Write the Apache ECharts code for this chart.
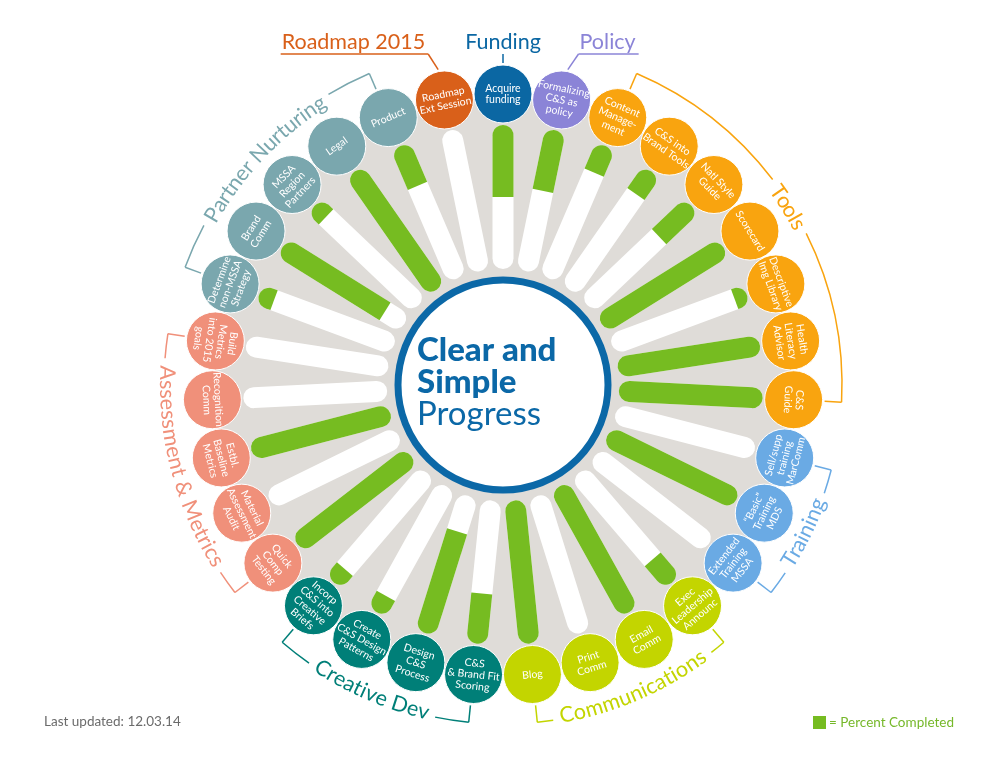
<!DOCTYPE html>
<html>
<head>
<meta charset="utf-8">
<script src="https://cdn.jsdelivr.net/npm/echarts@6/dist/echarts.min.js"></script>
<style>
  html, body { margin: 0; padding: 0; background: #fff; }
  #chart { width: 1000px; height: 773px; }
</style>
</head>
<body>
<div id="chart"></div>
<script>
// tasks, clockwise from the top
const tasks = [
  'Acquire\nfunding', 'Formalizing\nC&S as\npolicy', 'Content\nManage-\nment', 'C&S into\nBrand Tools',
  'Natl Style\nGuide', 'Scorecard', 'Descriptive\nImg Library', 'Health\nLiteracy\nAdvisor', 'C&S\nGuide',
  'Sell/supp\ntraining\nMarComm', '\u201cBasic\u201d\nTraining\nMDS', 'Extended\nTraining\nMSSA',
  'Exec\nLeadership\nAnnounc', 'Email\nComm', 'Print\nComm', 'Blog',
  'C&S\n& Brand Fit\nScoring', 'Design\nC&S\nProcess', 'Create\nC&S Design\nPatterns', 'Incorp\nC&S into\nCreative\nBriefs',
  'Quick\nComp\nTesting', 'Material\nAssessment\nAudit', 'Estbl.\nBaseline\nMetrics', 'Recognition\nComm', 'Build\nMetrics\ninto 2015\ngoals',
  'Determine\nnon-MSSA\nStrategy', 'Brand\nComm', 'MSSA\nRegion\nPartners', 'Legal', 'Product',
  'Roadmap\nExt Session'
]
// percent completed
const progress = [
  50, 43, 20, 19,
  31, 100, 9, 100, 100,
  0, 100, 0,
  21, 100, 0, 100,
  35, 74, 13, 12,
  100, 0, 100, 0, 0,
  11, 84, 11, 100, 30,
  0
]
const taskGroup = [
  'Funding', 'Policy', 'Tools', 'Tools',
  'Tools', 'Tools', 'Tools', 'Tools', 'Tools',
  'Training', 'Training', 'Training',
  'Communications', 'Communications', 'Communications', 'Communications',
  'Creative Dev', 'Creative Dev', 'Creative Dev', 'Creative Dev',
  'Assessment & Metrics', 'Assessment & Metrics', 'Assessment & Metrics', 'Assessment & Metrics', 'Assessment & Metrics',
  'Partner Nurturing', 'Partner Nurturing', 'Partner Nurturing', 'Partner Nurturing', 'Partner Nurturing',
  'Roadmap 2015'
]
const groupNames = ['Roadmap 2015', 'Funding', 'Policy', 'Tools', 'Training', 'Communications', 'Creative Dev', 'Assessment & Metrics', 'Partner Nurturing']

// styles
const groupColor = {
  'Roadmap 2015': '#d9601a',
  'Funding': '#0b67a3',
  'Policy': '#8b84d7',
  'Tools': '#f9a40f',
  'Training': '#6aaae4',
  'Communications': '#c3d500',
  'Creative Dev': '#007f78',
  'Assessment & Metrics': '#f0907a',
  'Partner Nurturing': '#7aa7ae'
}
// single-task groups get a heading above the ring
const topLabel = {
  'Roadmap 2015': { dx: -91, side: 'right' },
  'Funding': { dx: 0, side: 'none' },
  'Policy': { dx: 46, side: 'left' }
}
const GREEN = '#76bc21'
const BLUE = '#0b68a7'
const CX = 503
const CY = 385
const BAR_W = 21
const LABEL_R = 291
const CIRCLE_R = 29
const TICK_IN = 322
const ARC_R = 339
const TEXT_R = 336
const GROUP_FS = 21.5
const FONT = 'Lato'
const N = tasks.length

const measureCtx = document.createElement('canvas').getContext('2d')
function textWidth(s, size) {
  measureCtx.font = size + 'px ' + FONT
  return measureCtx.measureText(s).width
}
function compassDeg(p, cs) {
  const d = Math.atan2(p[0] - cs.cx, cs.cy - p[1]) * 180 / Math.PI
  return (d + 360) % 360
}
function polarPt(cs, r, deg) {
  const a = deg * Math.PI / 180
  return [cs.cx + r * Math.sin(a), cs.cy - r * Math.cos(a)]
}
function labelRot(deg) {
  const r = deg <= 100 ? deg : deg <= 285 ? deg - 180 : deg - 360
  return -r * Math.PI / 180
}
function toCanvasRad(deg) {
  return (deg - 90) * Math.PI / 180
}

function renderBar(params, api) {
  const cs = params.coordSys
  const pct = api.value(0)
  const i = api.value(1)
  const pO = api.coord([0, i])
  const pI = api.coord([100, i])
  const pG = api.coord([pct, i])
  const len = Math.hypot(pI[0] - pO[0], pI[1] - pO[1])
  const ux = (pI[0] - pO[0]) / len
  const uy = (pI[1] - pO[1]) / len
  const nx = -uy
  const ny = ux
  const h = BAR_W / 2
  const a = [pO[0] + ux * h, pO[1] + uy * h]
  const b = [pI[0] - ux * h, pI[1] - uy * h]
  const children = [{
    type: 'line',
    shape: { x1: a[0], y1: a[1], x2: b[0], y2: b[1] },
    style: { stroke: '#fff', lineWidth: BAR_W, lineCap: 'round' }
  }]
  if (pct >= 100) {
    children.push({
      type: 'line',
      shape: { x1: a[0], y1: a[1], x2: b[0], y2: b[1] },
      style: { stroke: GREEN, lineWidth: BAR_W, lineCap: 'round' }
    })
  } else if (pct > 0) {
    // round outer end, flat edge where the progress stops
    const pts = [[pG[0] + nx * h, pG[1] + ny * h]]
    for (let k = 0; k <= 20; k++) {
      const t = Math.PI * k / 20
      const vx = nx * Math.cos(t) - ux * Math.sin(t)
      const vy = ny * Math.cos(t) - uy * Math.sin(t)
      pts.push([a[0] + vx * h, a[1] + vy * h])
    }
    pts.push([pG[0] - nx * h, pG[1] - ny * h])
    children.push({ type: 'polygon', shape: { points: pts }, style: { fill: GREEN } })
  }
  const deg = compassDeg(pO, cs)
  const c = polarPt(cs, LABEL_R, deg)
  children.push({
    type: 'circle',
    shape: { cx: c[0], cy: c[1], r: CIRCLE_R },
    style: { fill: groupColor[taskGroup[i]], stroke: '#fff', lineWidth: 1 }
  })
  children.push({
    type: 'text',
    x: c[0],
    y: c[1],
    rotation: labelRot(deg),
    style: {
      text: tasks[i], fill: '#fff', fontSize: 10.5, fontFamily: FONT,
      align: 'center', verticalAlign: 'middle', lineHeight: 11.5
    }
  })
  return { type: 'group', children }
}

const groupRanges = groupNames.map(name => {
  const first = taskGroup.indexOf(name)
  const last = taskGroup.lastIndexOf(name)
  return [0, first, last]
})

function renderGroup(params, api) {
  const cs = params.coordSys
  const name = groupNames[params.dataIndex]
  const color = groupColor[name]
  const d1 = compassDeg(api.coord([0, api.value(1)]), cs)
  const d2 = compassDeg(api.coord([0, api.value(2)]), cs)
  const children = []
  const lineStyle = { stroke: color, lineWidth: 1.5, fill: 'none' }

  if (topLabel[name]) {
    const tl = topLabel[name]
    const c = polarPt(cs, LABEL_R, d1)
    const tx = c[0] + tl.dx
    const ty = cs.cy - 343
    const ly = cs.cy - 331
    const w = textWidth(name, GROUP_FS)
    const target = polarPt(cs, TICK_IN, d1)
    children.push({
      type: 'text', x: tx, y: ty,
      style: { text: name, fill: color, fontSize: GROUP_FS, fontFamily: FONT, align: 'center', verticalAlign: 'middle' }
    })
    if (tl.side === 'none') {
      children.push({ type: 'line', shape: { x1: tx, y1: ly, x2: target[0], y2: target[1] }, style: lineStyle })
    } else {
      const x1 = tx - w / 2 - 1
      const x2 = tx + w / 2 + 3
      const xe = tl.side === 'right' ? x2 : x1
      children.push({ type: 'polyline', shape: { points: [[x1, ly], [x2, ly]] }, style: lineStyle })
      children.push({ type: 'line', shape: { x1: xe, y1: ly, x2: target[0], y2: target[1] }, style: lineStyle })
    }
    return { type: 'group', children }
  }

  const mid = (d1 + d2) / 2
  const bottom = mid > 90 && mid < 270
  const W = textWidth(name, GROUP_FS)
  const span = W / TEXT_R * 180 / Math.PI
  const gap = 1.2
  // bracket ticks
  ;[d1, d2].forEach(d => {
    const p1 = polarPt(cs, TICK_IN, d)
    const p2 = polarPt(cs, ARC_R, d)
    children.push({ type: 'line', shape: { x1: p1[0], y1: p1[1], x2: p2[0], y2: p2[1] }, style: lineStyle })
  })
  // bracket arcs, broken for the text
  children.push({
    type: 'arc',
    shape: { cx: cs.cx, cy: cs.cy, r: ARC_R, startAngle: toCanvasRad(d1), endAngle: toCanvasRad(mid - span / 2 - gap), clockwise: true },
    style: lineStyle
  })
  children.push({
    type: 'arc',
    shape: { cx: cs.cx, cy: cs.cy, r: ARC_R, startAngle: toCanvasRad(mid + span / 2 + gap), endAngle: toCanvasRad(d2), clockwise: true },
    style: lineStyle
  })
  // text set along the arc, one glyph at a time
  for (let k = 0; k < name.length; k++) {
    const ch = name[k]
    if (ch === ' ') continue
    const off = (textWidth(name.slice(0, k), GROUP_FS) + textWidth(name.slice(0, k + 1), GROUP_FS)) / 2
    const dd = off / TEXT_R * 180 / Math.PI
    const deg = bottom ? mid + span / 2 - dd : mid - span / 2 + dd
    const p = polarPt(cs, TEXT_R, deg)
    const rot = bottom ? deg - 180 : deg
    children.push({
      type: 'text', x: p[0], y: p[1], rotation: -rot * Math.PI / 180,
      style: { text: ch, fill: color, fontSize: GROUP_FS, fontFamily: FONT, align: 'center', verticalAlign: 'middle' }
    })
  }
  return { type: 'group', children }
}

const chart = echarts.init(document.getElementById('chart'))
const hidden = { axisLine: { show: false }, axisTick: { show: false }, axisLabel: { show: false }, splitLine: { show: false } }
chart.setOption({
  animation: false,
  polar: { center: [CX, CY], radius: [116, 260] },
  angleAxis: Object.assign({ type: 'category', data: tasks, startAngle: 90 + 180 / N, clockwise: true }, hidden),
  radiusAxis: Object.assign({ type: 'value', min: 0, max: 100, inverse: true }, hidden),
  graphic: [
    { type: 'circle', shape: { cx: CX, cy: CY, r: 288 }, style: { fill: '#dfdcd8' }, z: 0 },
    { type: 'circle', shape: { cx: CX, cy: CY, r: 105 }, style: { fill: '#fff', stroke: BLUE, lineWidth: 7 }, z: 100 },
    { type: 'text', x: 417, y: 350, z: 101, style: { text: 'Clear and', fontSize: 33, fontWeight: 900, fontFamily: FONT, fill: BLUE, verticalAlign: 'middle' } },
    { type: 'text', x: 417, y: 382, z: 101, style: { text: 'Simple', fontSize: 33, fontWeight: 900, fontFamily: FONT, fill: BLUE, verticalAlign: 'middle' } },
    { type: 'text', x: 417, y: 414, z: 101, style: { text: 'Progress', fontSize: 33, fontFamily: FONT, fill: BLUE, verticalAlign: 'middle' } },
    { type: 'text', x: 44, y: 722, style: { text: 'Last updated: 12.03.14', fontSize: 13.5, fontFamily: FONT, fill: '#6b6b6b', verticalAlign: 'middle' } },
    { type: 'rect', shape: { x: 813, y: 716, width: 13, height: 13 }, style: { fill: GREEN } },
    { type: 'text', x: 829, y: 723, style: { text: '= Percent Completed', fontSize: 13.5, fontFamily: FONT, fill: '#76b82a', verticalAlign: 'middle' } }
  ],
  series: [
    {
      type: 'custom',
      coordinateSystem: 'polar',
      silent: true,
      encode: { radius: 0, angle: 1 },
      renderItem: renderBar,
      data: progress.map((v, i) => [v, i])
    },
    {
      type: 'custom',
      coordinateSystem: 'polar',
      silent: true,
      encode: { radius: 0, angle: 1 },
      renderItem: renderGroup,
      data: groupRanges
    }
  ]
})
window.addEventListener('resize', () => chart.resize(), false)
</script>
</body>
</html>
